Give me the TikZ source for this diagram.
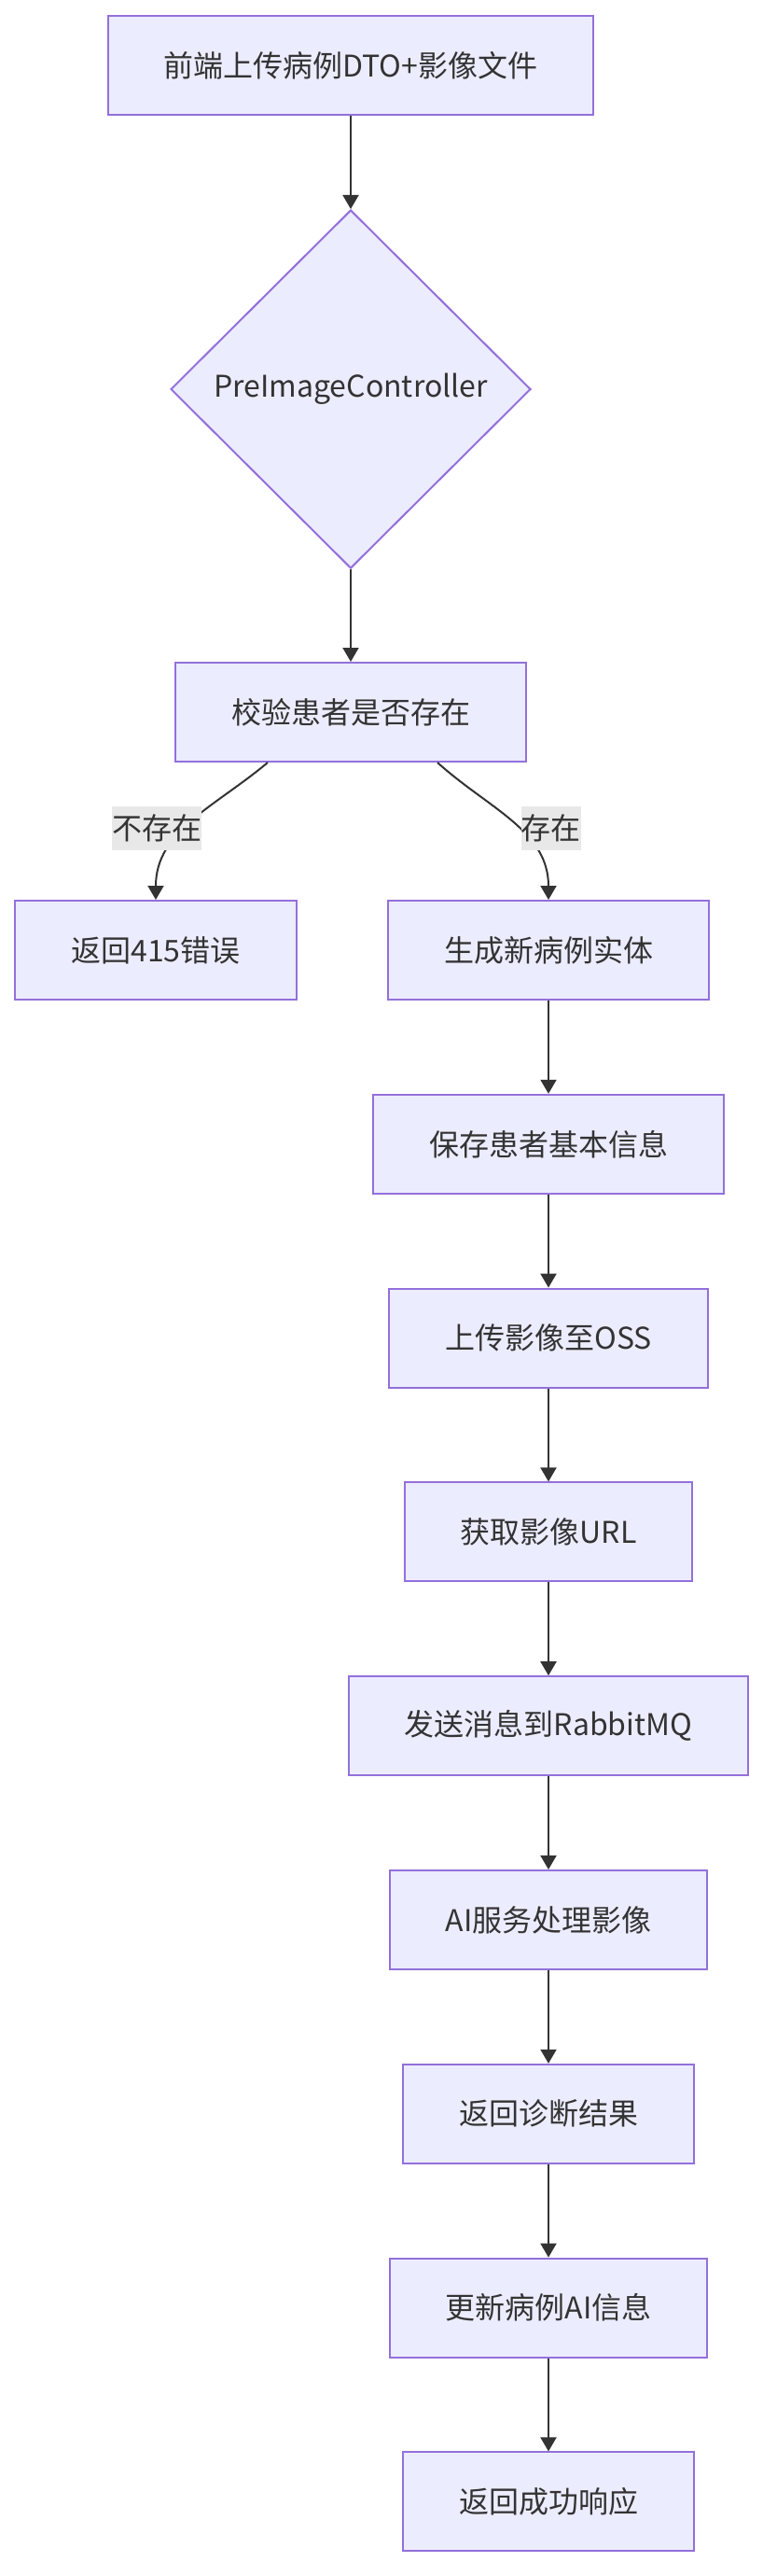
\documentclass[tikz,border=0pt]{standalone}
\usepackage{fontspec}
\setmainfont{Noto Sans CJK SC}
\usepackage{xcolor}
\usetikzlibrary{positioning,arrows.meta,shapes.geometric}

\definecolor{boxfill}{HTML}{ECECFF}
\definecolor{boxline}{HTML}{9370DB}
\definecolor{ink}{HTML}{333333}
\definecolor{lblbg}{HTML}{E8E8E8}

\begin{document}
\begin{tikzpicture}[->, >={Triangle[length=7.5pt,width=8.5pt]}, node distance=49.9pt, box/.style = {rectangle, draw=boxline, fill=boxfill, line width=1pt, text=ink, minimum height=53pt, inner xsep=30pt, font=\fontsize{16pt}{19pt}\selectfont}, decide/.style = {diamond, draw=boxline, fill=boxfill, line width=1pt, text=ink, minimum width=193pt, minimum height=192pt, inner sep=0pt, font=\fontsize{16pt}{19pt}\selectfont}, lbl/.style = {fill=lblbg, text=ink, inner sep=0pt, minimum height=23.5pt, font=\fontsize{16pt}{19pt}\selectfont}, every edge/.append style={draw=ink, line width=1pt}]

\useasboundingbox (0,0) rectangle (409pt,-1380pt);

\node[box] (start) at (188pt,-35pt) {前端上传病例DTO+影像文件};
\node[decide] (ctrl) [below=50pt of start] {PreImageController};
\node[box] (check) [below=49.5pt of ctrl] {校验患者是否存在};

\node[box] (err) [below=73.5pt of check, xshift=-104.5pt] {返回415错误};
\node[box] (gen) [below=73.5pt of check, xshift=106pt] {生成新病例实体};

\node[box] (save) [below=of gen] {保存患者基本信息};
\node[box] (oss) [below=of save] {上传影像至OSS};
\node[box] (url) [below=of oss] {获取影像URL};
\node[box] (mq) [below=of url] {发送消息到RabbitMQ};
\node[box] (ai) [below=of mq] {AI服务处理影像};
\node[box] (diag) [below=of ai] {返回诊断结果};
\node[box] (upd) [below=of diag] {更新病例AI信息};
\node[box] (ok) [below=of upd] {返回成功响应};

\path
    (start) edge (ctrl)
    (ctrl) edge (check)
    ([xshift=-44.5pt]check.south) edge[out=-140, in=90] node[lbl, pos=0.55, xshift=-15.5pt] {不存在} (err.north)
    ([xshift=46.5pt]check.south) edge[out=-42, in=90] node[lbl, pos=0.55, xshift=17.5pt] {存在} (gen.north)
    (gen) edge (save)
    (save) edge (oss)
    (oss) edge (url)
    (url) edge (mq)
    (mq) edge (ai)
    (ai) edge (diag)
    (diag) edge (upd)
    (upd) edge (ok);
\end{tikzpicture}
\end{document}
